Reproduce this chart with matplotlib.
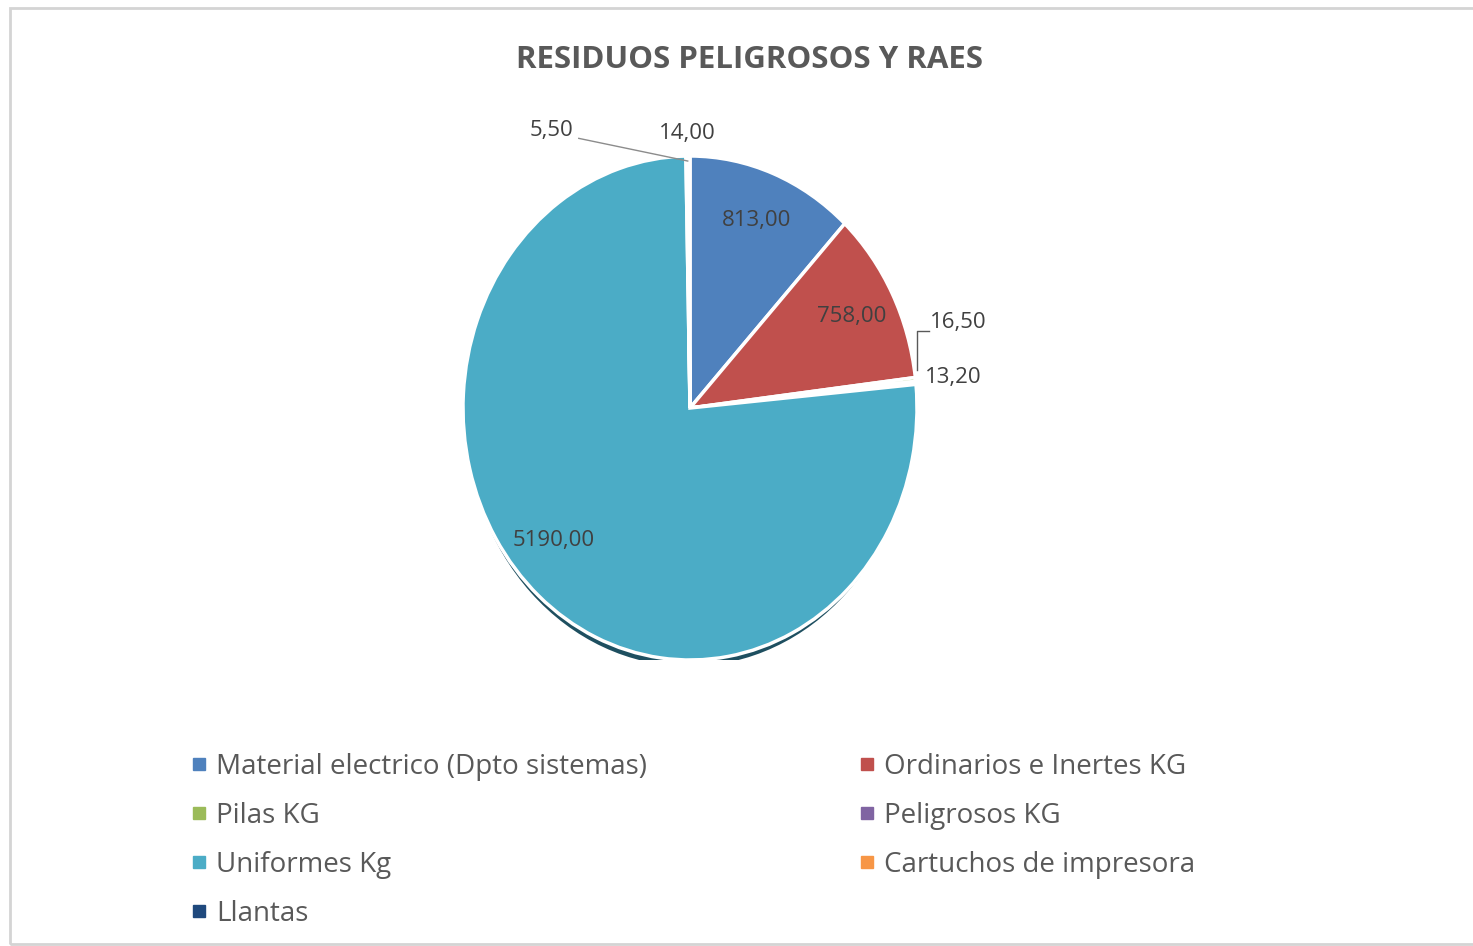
import matplotlib.pyplot as plt
import numpy as np
from matplotlib.lines import Line2D
from matplotlib.patches import Ellipse, Rectangle

plt.rcParams['font.family'] = ['Open Sans', 'DejaVu Sans']

categorias = ['Material electrico (Dpto sistemas)', 'Ordinarios e Inertes KG', 'Pilas KG',
              'Peligrosos KG', 'Uniformes Kg', 'Cartuchos de impresora', 'Llantas']
valores = [813.00, 758.00, 16.50, 13.20, 5190.00, 5.50, 14.00]
colores = ['#4F81BD', '#C0504D', '#9BBB59', '#8064A2', '#4BACC6', '#F79646', '#1F497D']

fig = plt.figure(figsize=(14.73, 9.46), dpi=100)
fig.patches.append(Rectangle((10 / 1473, 2 / 946), 1470 / 1473, 936 / 946, transform=fig.transFigure,
                             fill=False, edgecolor='#d4d4d4', linewidth=2))

# pie axes: slightly taller than wide
cx, cy, rx, ry = 690, 408, 227, 252
ax = fig.add_axes([(cx - rx) / 1473, 1 - (cy + ry) / 946, 2 * rx / 1473, 2 * ry / 946])

# drop shadow under the pie
ax.add_patch(Ellipse((-0.005, -0.025), 1.97, 2.0, facecolor='#1e4f60', edgecolor='none', zorder=0))

wedges, _ = ax.pie(valores, colors=colores, startangle=90, counterclock=False,
                   wedgeprops=dict(edgecolor='white', linewidth=2.5))
ax.set_aspect('auto')
ax.set_xlim(-1, 1)
ax.set_ylim(-1, 1)

def etiqueta(v):
    return f'{v:.2f}'.replace('.', ',')

total = sum(valores)
# labels for the large slices sit inside the pie
for w, v in zip(wedges, valores):
    if v / total > 0.05:
        ang = np.deg2rad((w.theta1 + w.theta2) / 2 - (7 if v / total > 0.5 else 0))
        ax.text(0.8 * np.cos(ang), 0.8 * np.sin(ang), etiqueta(v), ha='center', va='center',
                fontsize=16, color='#404040')

# small slices: labels outside
fuera = {2: (1.18, 0.34), 3: (1.16, 0.12), 5: (-0.61, 1.10), 6: (-0.01, 1.09)}
for i, (tx, ty) in fuera.items():
    ax.text(tx, ty, etiqueta(valores[i]), ha='center', va='center', fontsize=16, color='#404040')
ax.plot([1.0, 1.0, 1.055], [0.15, 0.305, 0.305], color='#595959', lw=1, clip_on=False)
ax.plot([-0.49, -0.01], [1.07, 0.98], color='#8c8c8c', lw=1, clip_on=False)

fig.text(749 / 1473, 1 - 60 / 946, 'RESIDUOS PELIGROSOS Y RAES', ha='center', va='center',
         fontsize=22.5, fontweight='bold', color='#595959')

# two-column legend, row by row
def entrada(i):
    return Line2D([], [], marker='s', linestyle='', markersize=8, color=colores[i])

for idx, x0 in [([0, 2, 4, 6], 180), ([1, 3, 5], 848)]:
    leg = fig.legend([entrada(i) for i in idx], [categorias[i] for i in idx],
                     loc='upper left', bbox_to_anchor=(x0 / 1473, 1 - 742 / 946), frameon=False,
                     fontsize=20, labelcolor='#595959', handlelength=0.6, handletextpad=0.3,
                     labelspacing=0.75, borderaxespad=0)

fig.savefig('out.png', dpi=100, facecolor='white')
